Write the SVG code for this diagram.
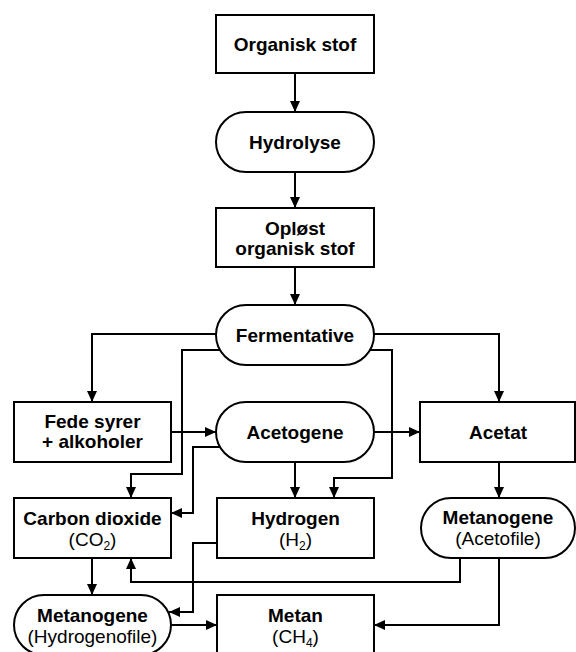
<svg xmlns="http://www.w3.org/2000/svg" width="576" height="652" viewBox="0 0 576 652">
<defs>
<marker id="ah" markerUnits="userSpaceOnUse" markerWidth="12" markerHeight="10" refX="11" refY="5" orient="auto">
<path d="M0,0 L11,5 L0,10 z" fill="#000"/>
</marker>
<style>
.n{fill:#fff;stroke:#000;stroke-width:2}
.c{fill:none;stroke:#000;stroke-width:2;marker-end:url(#ah)}
text{font-family:"Liberation Sans",Arial,sans-serif;font-size:19px;text-anchor:middle;fill:#000}
.b{font-weight:bold}
.s{font-size:12px}
</style>
</defs>
<rect width="576" height="652" fill="#fff"/>
<g id="connectors">
<path class="c" d="M295,73 V112"/>
<path class="c" d="M295,172 V208"/>
<path class="c" d="M295,267 V305"/>
<path class="c" d="M217,334 H92 V402"/>
<path class="c" d="M220,350 H182 V474 H131 V498"/>
<path class="c" d="M374,334 H499 V402"/>
<path class="c" d="M370,350 H392 V478 H334 V498"/>
<path class="c" d="M171,432 H216"/>
<path class="c" d="M374,432 H420"/>
<path class="c" d="M220,447 H193 V513 H171"/>
<path class="c" d="M295,462 V498"/>
<path class="c" d="M499,462 V498"/>
<path class="c" d="M92,558 V595"/>
<path class="c" d="M217,543 H193 V612 H169"/>
<path class="c" d="M460,558 V582 H131 V558"/>
<path class="c" d="M499,558 V625 H374"/>
<path class="c" d="M171,625 H217"/>
</g>
<g id="organisk">
<rect class="n" x="216" y="15" width="158" height="58"/>
<text class="b" x="295" y="51">Organisk stof</text>
</g>
<g id="hydrolyse">
<rect class="n" x="216" y="112" width="158" height="60" rx="30" ry="30"/>
<text class="b" x="295" y="149">Hydrolyse</text>
</g>
<g id="oploest">
<rect class="n" x="216" y="208" width="158" height="59"/>
<text class="b" x="295" y="235">Opløst</text>
<text class="b" x="295" y="255">organisk stof</text>
</g>
<g id="fermentative">
<rect class="n" x="216" y="305" width="158" height="60" rx="30" ry="30"/>
<text class="b" x="295" y="342">Fermentative</text>
</g>
<g id="fede">
<rect class="n" x="14" y="402" width="157" height="60"/>
<text class="b" x="92.5" y="428">Fede syrer</text>
<text class="b" x="92.5" y="448">+ alkoholer</text>
</g>
<g id="acetogene">
<rect class="n" x="216" y="402" width="158" height="60" rx="30" ry="30"/>
<text class="b" x="295" y="439">Acetogene</text>
</g>
<g id="acetat">
<rect class="n" x="420" y="402" width="155" height="60"/>
<text class="b" x="498" y="439">Acetat</text>
</g>
<g id="co2">
<rect class="n" x="14" y="498" width="157" height="60"/>
<text class="b" x="92.5" y="525">Carbon dioxide</text>
<text x="92.5" y="546">(CO<tspan class="s" dy="4">2</tspan><tspan dy="-4">)</tspan></text>
</g>
<g id="hydrogen">
<rect class="n" x="217" y="498" width="157" height="60"/>
<text class="b" x="295.5" y="525">Hydrogen</text>
<text x="295.5" y="546">(H<tspan class="s" dy="4">2</tspan><tspan dy="-4">)</tspan></text>
</g>
<g id="metanogeneA">
<rect class="n" x="421" y="498" width="154" height="60" rx="30" ry="30"/>
<text class="b" x="498" y="524">Metanogene</text>
<text x="498" y="545">(Acetofile)</text>
</g>
<g id="metanogeneH">
<rect class="n" x="14" y="595" width="157" height="60" rx="30" ry="30"/>
<text class="b" x="92.5" y="622">Metanogene</text>
<text x="92.5" y="643">(Hydrogenofile)</text>
</g>
<g id="metan">
<rect class="n" x="217" y="595" width="157" height="65"/>
<text class="b" x="295.5" y="622">Metan</text>
<text x="295.5" y="643">(CH<tspan class="s" dy="4">4</tspan><tspan dy="-4">)</tspan></text>
</g>
</svg>
